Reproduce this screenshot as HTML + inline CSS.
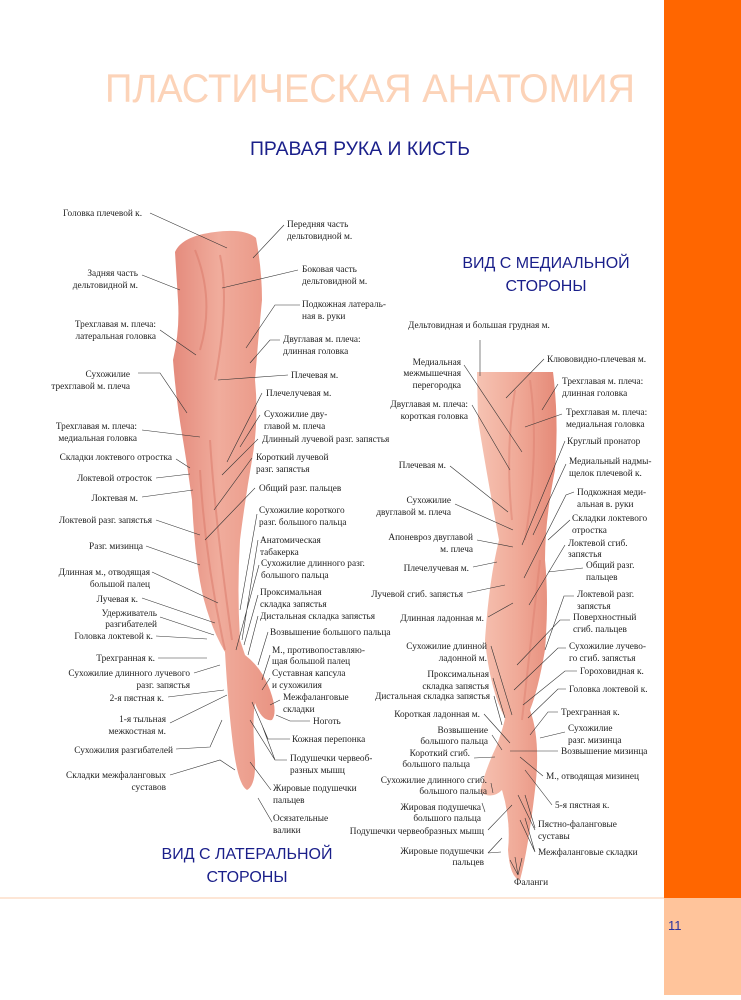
<!DOCTYPE html>
<html><head><meta charset="utf-8"><style>
html,body{margin:0;padding:0;background:#fff;width:741px;height:1000px;overflow:hidden}
svg{display:block}
.t{font-family:"Liberation Serif",serif;font-size:9.3px;fill:#1e1e1e}
.e{text-anchor:end}
</style></head><body>
<svg width="741" height="1000" viewBox="0 0 741 1000" xmlns="http://www.w3.org/2000/svg">
<defs>
<linearGradient id="g1" x1="0" y1="0" x2="1" y2="0">
<stop offset="0" stop-color="#e48a7c"/><stop offset="0.45" stop-color="#f0ac9c"/><stop offset="1" stop-color="#e99483"/>
</linearGradient>
<linearGradient id="g2" x1="0" y1="0" x2="1" y2="0">
<stop offset="0" stop-color="#f6c3b3"/><stop offset="0.5" stop-color="#f0aa98"/><stop offset="1" stop-color="#e58a78"/>
</linearGradient>
</defs>
<rect x="664" y="0" width="77" height="898" fill="#ff6600"/>
<rect x="664" y="898" width="77" height="97" fill="#ffc49b"/>
<rect x="0" y="897" width="664" height="2" fill="#fde6d6"/>
<text x="668" y="930" font-family="Liberation Sans,sans-serif" font-size="13" fill="#2a33a0">11</text>

<text x="105" y="102" font-family="Liberation Sans,sans-serif" font-size="40" fill="#fcd3b8" textLength="530" lengthAdjust="spacingAndGlyphs">ПЛАСТИЧЕСКАЯ АНАТОМИЯ</text>
<text x="250" y="155" font-family="Liberation Sans,sans-serif" font-size="19" fill="#1a1f8a" textLength="220" lengthAdjust="spacingAndGlyphs">ПРАВАЯ РУКА И КИСТЬ</text>
<g font-family="Liberation Sans,sans-serif" font-size="16" fill="#1a1f8a" text-anchor="middle">
<text x="546" y="268">ВИД С МЕДИАЛЬНОЙ</text><text x="546" y="291">СТОРОНЫ</text>
<text x="247" y="859">ВИД С ЛАТЕРАЛЬНОЙ</text><text x="247" y="882">СТОРОНЫ</text>
</g>

<!-- lateral arm -->
<path fill="url(#g1)" d="M175,252 Q182,236 215,232 Q245,228 256,238 Q262,270 262,300 Q258,340 255,380 Q259,420 252,460 Q245,500 240,540 Q237,590 240,640 L245,655 Q262,668 270,690 Q278,712 272,720 Q262,722 255,703 Q252,720 255,760 Q256,785 247,790 Q238,785 233,745 Q228,705 225,652 Q212,630 204,600 Q195,565 192,500 Q188,470 183,440 Q176,400 173,360 Q180,330 178,300 Z"/>
<path fill="none" stroke="#d97868" stroke-width="2" opacity="0.5" d="M195,250 Q215,300 200,350 M220,255 Q230,300 215,380 M210,440 Q215,520 232,640 M200,470 Q205,560 225,650"/>
<!-- medial arm -->
<path fill="url(#g2)" d="M477,372 L553,372 Q559,420 555,470 Q545,520 545,560 Q549,600 545,650 Q538,690 530,710 Q541,740 535,790 Q528,850 520,880 Q510,878 508,850 Q511,820 502,790 Q492,800 480,792 Q485,770 497,745 Q504,725 505,718 Q490,690 485,640 Q489,580 499,540 Q486,470 478,420 Z"/>
<path fill="none" stroke="#dc7d6c" stroke-width="2" opacity="0.45" d="M530,380 Q540,450 525,540 M540,560 Q530,650 522,720 M515,390 Q505,450 512,520"/>

<g stroke="#333" stroke-width="0.6" fill="none">
<path d="M150,213L227,248 M142,275L180,290 M160,330L196,355 M138,373L160,373L187,413 M142,430L200,437 M176,459L190,468 M156,478L190,474 M142,497L193,490 M156,520L200,535 M146,546L200,565 M152,572L218,603 M142,598L215,623 M160,617L214,635 M156,636L207,639 M158,658L207,658 M194,673L220,665 M168,697L224,690 M170,723L227,695 M176,749L210,747L222,720 M170,775L220,760L235,770"/>
<path d="M284,225L253,258 M298,270L222,288 M300,305L275,305L246,348 M280,340L270,340L250,363 M288,375L218,380 M262,393L227,462 M260,415L240,447 M258,439L222,475 M252,458L214,510 M255,488L205,540 M257,514L240,610 M258,540L242,640 M259,565L236,650 M258,595L244,645 M258,616L248,655 M268,632L258,665 M270,655L262,680 M270,678L262,690 M280,700L270,705 M310,721L290,721L276,715 M290,739L268,739L252,702 M287,760L275,760L262,725 M275,760L250,720 M271,790L250,762 M272,822L258,798"/>
<path d="M480,340L480,376 M464,365L522,452 M472,405L510,470 M450,466L508,512 M455,504L513,530 M477,540L513,547 M473,567L497,562 M467,593L505,585 M488,617L513,603 M491,646L512,715 M493,678L505,718 M494,696L502,725 M484,714L510,743 M492,735L502,750 M474,758L495,757 M491,783L493,793 M485,812L482,803 M488,830L512,805 M488,853L502,838 M488,853L501,852"/>
<path d="M544,359L506,398 M558,384L542,410 M562,414L525,427 M565,441L522,545 M566,464L533,535 M574,492L566,495L524,578 M570,520L548,540 M565,545L529,605 M583,568L548,572 M574,596L564,596L545,650 M570,620L560,620L517,665 M566,648L558,648L514,690 M577,671L565,671L523,705 M566,689L558,689L528,718 M558,712L548,712L530,735 M565,732L540,738 M558,751L510,751 M543,776L520,757 M552,805L525,770 M535,828L525,795 M535,830L518,795 M535,852L525,818 M535,852L520,820 M518,875L515,857 M518,875L510,860 M518,875L522,858"/>
</g>

<g class="t">
<text x="63" y="216">Головка плечевой к.</text>
<text class="e" x="138" y="276">Задняя часть</text><text class="e" x="138" y="288">дельтовидной м.</text>
<text class="e" x="156" y="327">Трехглавая м. плеча:</text><text class="e" x="156" y="339">латеральная головка</text>
<text class="e" x="130" y="377">Сухожилие</text><text class="e" x="130" y="389">трехглавой м. плеча</text>
<text class="e" x="137" y="429">Трехглавая м. плеча:</text><text class="e" x="137" y="441">медиальная головка</text>
<text class="e" x="172" y="460">Складки локтевого отростка</text>
<text class="e" x="152" y="481">Локтевой отросток</text>
<text class="e" x="138" y="501">Локтевая м.</text>
<text class="e" x="152" y="523">Локтевой разг. запястья</text>
<text class="e" x="143" y="549">Разг. мизинца</text>
<text class="e" x="150" y="575">Длинная м., отводящая</text><text class="e" x="150" y="587">большой палец</text>
<text class="e" x="138" y="602">Лучевая к.</text>
<text class="e" x="157" y="616">Удерживатель</text><text class="e" x="157" y="627">разгибателей</text>
<text class="e" x="153" y="639">Головка локтевой к.</text>
<text class="e" x="155" y="661">Трехгранная к.</text>
<text class="e" x="190" y="676">Сухожилие длинного лучевого</text><text class="e" x="190" y="688">разг. запястья</text>
<text class="e" x="164" y="701">2-я пястная к.</text>
<text class="e" x="166" y="722">1-я тыльная</text><text class="e" x="166" y="734">межкостная м.</text>
<text class="e" x="173" y="753">Сухожилия разгибателей</text>
<text class="e" x="166" y="778">Складки межфаланговых</text><text class="e" x="166" y="790">суставов</text>

<text x="287" y="227">Передняя часть</text><text x="287" y="239">дельтовидной м.</text>
<text x="302" y="272">Боковая часть</text><text x="302" y="284">дельтовидной м.</text>
<text x="302" y="307">Подкожная латераль-</text><text x="302" y="319">ная в. руки</text>
<text x="283" y="342">Двуглавая м. плеча:</text><text x="283" y="354">длинная головка</text>
<text x="291" y="378">Плечевая м.</text>
<text x="266" y="396">Плечелучевая м.</text>
<text x="264" y="417">Сухожилие дву-</text><text x="264" y="429">главой м. плеча</text>
<text x="262" y="442">Длинный лучевой разг. запястья</text>
<text x="256" y="460">Короткий лучевой</text><text x="256" y="472">разг. запястья</text>
<text x="259" y="491">Общий разг. пальцев</text>
<text x="259" y="513">Сухожилие короткого</text><text x="259" y="525">разг. большого пальца</text>
<text x="260" y="543">Анатомическая</text><text x="260" y="555">табакерка</text>
<text x="261" y="566">Сухожилие длинного разг.</text><text x="261" y="578">большого пальца</text>
<text x="260" y="595">Проксимальная</text><text x="260" y="607">складка запястья</text>
<text x="260" y="619">Дистальная складка запястья</text>
<text x="270" y="635">Возвышение большого пальца</text>
<text x="272" y="653">М., противопоставляю-</text><text x="272" y="664">щая большой палец</text>
<text x="272" y="676">Суставная капсула</text><text x="272" y="688">и сухожилия</text>
<text x="283" y="700">Межфаланговые</text><text x="283" y="712">складки</text>
<text x="313" y="724">Ноготь</text>
<text x="292" y="742">Кожная перепонка</text>
<text x="290" y="761">Подушечки червеоб-</text><text x="290" y="773">разных мышц</text>
<text x="273" y="791">Жировые подушечки</text><text x="273" y="803">пальцев</text>
<text x="273" y="821">Осязательные</text><text x="273" y="833">валики</text>

<text x="408" y="328">Дельтовидная и большая грудная м.</text>
<text class="e" x="461" y="365">Медиальная</text><text class="e" x="461" y="376">межмышечная</text><text class="e" x="461" y="388">перегородка</text>
<text class="e" x="468" y="407">Двуглавая м. плеча:</text><text class="e" x="468" y="419">короткая головка</text>
<text class="e" x="446" y="468">Плечевая м.</text>
<text class="e" x="451" y="503">Сухожилие</text><text class="e" x="451" y="515">двуглавой м. плеча</text>
<text class="e" x="473" y="540">Апоневроз двуглавой</text><text class="e" x="473" y="552">м. плеча</text>
<text class="e" x="469" y="571">Плечелучевая м.</text>
<text class="e" x="463" y="597">Лучевой сгиб. запястья</text>
<text class="e" x="484" y="621">Длинная ладонная м.</text>
<text class="e" x="487" y="649">Сухожилие длинной</text><text class="e" x="487" y="661">ладонной м.</text>
<text class="e" x="489" y="677">Проксимальная</text><text class="e" x="489" y="689">складка запястья</text>
<text class="e" x="490" y="699">Дистальная складка запястья</text>
<text class="e" x="480" y="717">Короткая ладонная м.</text>
<text class="e" x="488" y="733">Возвышение</text><text class="e" x="488" y="744">большого пальца</text>
<text class="e" x="470" y="756">Короткий сгиб.</text><text class="e" x="470" y="767">большого пальца</text>
<text class="e" x="487" y="783">Сухожилие длинного сгиб.</text><text class="e" x="487" y="794">большого пальца</text>
<text class="e" x="481" y="810">Жировая подушечка</text><text class="e" x="481" y="821">большого пальца</text>
<text class="e" x="484" y="834">Подушечки червеобразных мышц</text>
<text class="e" x="484" y="854">Жировые подушечки</text><text class="e" x="484" y="865">пальцев</text>

<text x="547" y="362">Клювовидно-плечевая м.</text>
<text x="562" y="384">Трехглавая м. плеча:</text><text x="562" y="396">длинная головка</text>
<text x="566" y="415">Трехглавая м. плеча:</text><text x="566" y="427">медиальная головка</text>
<text x="567" y="444">Круглый пронатор</text>
<text x="569" y="464">Медиальный надмы-</text><text x="569" y="476">щелок плечевой к.</text>
<text x="577" y="495">Подкожная меди-</text><text x="577" y="507">альная в. руки</text>
<text x="572" y="521">Складки локтевого</text><text x="572" y="533">отростка</text>
<text x="568" y="546">Локтевой сгиб.</text><text x="568" y="557">запястья</text>
<text x="586" y="568">Общий разг.</text><text x="586" y="580">пальцев</text>
<text x="577" y="597">Локтевой разг.</text><text x="577" y="609">запястья</text>
<text x="573" y="620">Поверхностный</text><text x="573" y="632">сгиб. пальцев</text>
<text x="569" y="649">Сухожилие лучево-</text><text x="569" y="661">го сгиб. запястья</text>
<text x="580" y="674">Гороховидная к.</text>
<text x="569" y="692">Головка локтевой к.</text>
<text x="561" y="715">Трехгранная к.</text>
<text x="568" y="731">Сухожилие</text><text x="568" y="743">разг. мизинца</text>
<text x="561" y="754">Возвышение мизинца</text>
<text x="546" y="779">М., отводящая мизинец</text>
<text x="555" y="808">5-я пястная к.</text>
<text x="538" y="827">Пястно-фаланговые</text><text x="538" y="839">суставы</text>
<text x="538" y="855">Межфаланговые складки</text>
<text x="514" y="885">Фаланги</text>
</g>
</svg>
</body></html>
